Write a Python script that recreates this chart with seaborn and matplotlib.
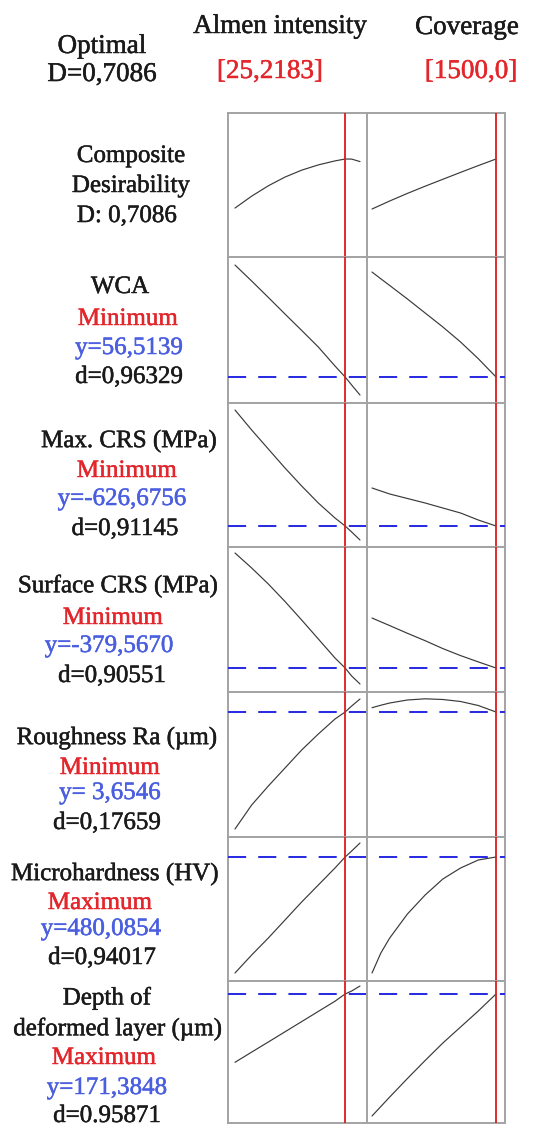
import matplotlib
matplotlib.use("Agg")
import matplotlib.pyplot as plt
import matplotlib.patheffects as pe
import seaborn as sns

sns.set_style("white")
plt.rcParams["font.family"] = ["Liberation Serif", "DejaVu Serif"]

# Factor settings (Almen intensity, coverage %) and optimum
almen = [12, 14, 16, 18, 20, 22, 24, 25.2183, 26, 27]
coverage = [100, 200, 300, 500, 700, 900, 1100, 1300, 1500]
almen_opt = 25.2183
coverage_opt = 1500.0

# Composite desirability
comp_almen = [0.354, 0.44, 0.515, 0.578, 0.628, 0.666, 0.695, 0.7086, 0.708, 0.69]
comp_cov = [0.347, 0.376, 0.405, 0.46, 0.512, 0.562, 0.612, 0.661, 0.7086]

# Water contact angle
wca_almen = [112.5, 104.5, 96.3, 88.0, 79.8, 71.5, 62.0, 56.5139, 52.5, 47.5]
wca_cov = [109.0, 105.6, 102.26, 95.51, 88.51, 81.51, 74.01, 65.66, 56.5139]

# Maximum compressive residual stress (MPa)
maxcrs_almen = [-278.7, -338.7, -395.7, -452.7, -506.7, -557.7, -602.7, -626.6756, -644.7, -668.7]
maxcrs_cov = [-512.68, -521.7, -530.68, -544.18, -557.68, -572.68, -587.68, -608.68, -626.6756]

# Surface compressive residual stress (MPa)
surfcrs_almen = [-149.57, -179.57, -211.57, -246.57, -283.57, -321.57, -359.57, -379.567, -395.57, -411.57]
surfcrs_cov = [-279.57, -287.2, -294.77, -310.17, -324.97, -340.77, -354.77, -367.37, -379.567]

# Surface roughness Ra (um)
ra_almen = [1.3146, 1.7946, 2.1746, 2.5346, 2.8946, 3.2146, 3.5146, 3.6546, 3.7746, 3.9146]
ra_cov = [3.7406, 3.79, 3.8346, 3.8946, 3.9186, 3.9046, 3.8646, 3.7846, 3.6546]

# Microhardness (HV)
hv_almen = [422.09, 431.09, 439.59, 448.59, 457.59, 466.09, 474.59, 480.0854, 483.09, 487.09]
hv_cov = [422.09, 432.09, 439.59, 451.59, 461.09, 469.09, 474.59, 478.59, 480.0854]

# Depth of deformed layer (um)
depth_almen = [137.23, 142.33, 147.38, 152.48, 157.58, 162.68, 167.78, 171.3848, 172.88, 175.38]
depth_cov = [110.38, 115.13, 119.88, 129.13, 138.13, 146.88, 154.88, 162.88, 171.3848]

# Optimal predicted responses (None: no target line)
optimum_y = [None, 56.5139, -626.6756, -379.5670, 3.6546, 480.0854, 171.3848]

series_almen = [comp_almen, wca_almen, maxcrs_almen, surfcrs_almen, ra_almen, hv_almen, depth_almen]
series_cov = [comp_cov, wca_cov, maxcrs_cov, surfcrs_cov, ra_cov, hv_cov, depth_cov]

RED = "#e3262c"
BLUE = "#4a5ee0"
BLACK = "#1a1a1a"

# Row label blocks: (text, colour, x centre px, y centre px)
row_labels = [
    [("Composite", BLACK, 131, 156), ("Desirability", BLACK, 131, 186), ("D: 0,7086", BLACK, 127, 216)],
    [("WCA", BLACK, 120, 287), ("Minimum", RED, 128, 319), ("y=56,5139", BLUE, 129, 348), ("d=0,96329", BLACK, 129, 377)],
    [("Max. CRS (MPa)", BLACK, 129, 441), ("Minimum", RED, 127, 471), ("y=-626,6756", BLUE, 122, 499), ("d=0,91145", BLACK, 125, 529)],
    [("Surface CRS (MPa)", BLACK, 118, 586), ("Minimum", RED, 113, 618), ("y=-379,5670", BLUE, 109, 646), ("d=0,90551", BLACK, 112, 676)],
    [("Roughness Ra (\u00b5m)", BLACK, 117, 738), ("Minimum", RED, 110, 768), ("y= 3,6546", BLUE, 110, 793), ("d=0,17659", BLACK, 107, 823)],
    [("Microhardness (HV)", BLACK, 115, 874), ("Maximum", RED, 100, 903), ("y=480,0854", BLUE, 101, 929), ("d=0,94017", BLACK, 102, 958)],
    [("Depth of", BLACK, 107, 998), ("deformed layer (\u00b5m)", BLACK, 118, 1029), ("Maximum", RED, 104, 1058),
     ("y=171,3848", BLUE, 107, 1088), ("d=0.95871", BLACK, 107, 1116)],
]

# Layout (pixels)
W, H = 539, 1126
col_edges = [228, 367, 505]
row_edges = [113, 257, 403, 547, 692, 837, 981, 1123]
xlim_almen = (11.16, 27.84)
xlim_cov = (43.5, 1601.6)
ylims = [(0, 1.0413), (43.51, 116.51), (-689.68, -257.68), (-427.57, -137.57),
         (1.1546, 4.0546), (418.09, 490.09), (106.88, 177.88)]

fig = plt.figure(figsize=(W / 100, H / 100), dpi=100)
fig.patch.set_facecolor("white")


def fx(px):
    return px / W


def fy(py):
    return 1 - py / H


GRID = "#a3a3a3"
dash_lw = 1.45
dash_pat = (9.0, 6.0)
period_px = (dash_pat[0] + dash_pat[1]) * dash_lw / 0.72
right_offset = ((col_edges[1] - col_edges[0]) % period_px) * 0.72 / dash_lw

for r in range(7):
    top, bot = row_edges[r], row_edges[r + 1]
    for c, (xs, ys, xlim, xopt) in enumerate([
        (almen, series_almen[r], xlim_almen, almen_opt),
        (coverage, series_cov[r], xlim_cov, coverage_opt),
    ]):
        left, right = col_edges[c], col_edges[c + 1]
        ax = fig.add_axes([fx(left), fy(bot), fx(right - left), (bot - top) / H])
        sns.lineplot(x=xs, y=ys, ax=ax, color="#3a3a3a", lw=0.85, zorder=2)
        ax.axvline(xopt, color="#dd1a1a", lw=1.3, zorder=3)
        if optimum_y[r] is not None:
            off = 0 if c == 0 else right_offset
            ax.axhline(optimum_y[r], color="#2a2ee0", lw=dash_lw,
                       linestyle=(off, dash_pat), zorder=4)
        ax.set_xlim(*xlim)
        ax.set_ylim(*ylims[r])
        ax.set_xticks([])
        ax.set_yticks([])
        ax.set_xlabel("")
        ax.set_ylabel("")
        for s in ax.spines.values():
            s.set_color(GRID)
            s.set_linewidth(1.4)
            s.set_visible(True)


def label(x, y, s, color, size, va="center"):
    t = fig.text(fx(x), fy(y), s, ha="center", va=va, fontsize=size, color=color)
    t.set_path_effects([pe.withStroke(linewidth=0.35, foreground=color)])
    return t


# Header
label(102, 53, "Optimal", BLACK, 19.5, va="baseline")
label(102, 81, "D=0,7086", BLACK, 19.5, va="baseline")
label(280, 33, "Almen intensity", BLACK, 19.5, va="baseline")
label(270, 78, "[25,2183]", RED, 19.5, va="baseline")
label(467, 34, "Coverage", BLACK, 19.5, va="baseline")
label(471, 78, "[1500,0]", RED, 19.5, va="baseline")

for block in row_labels:
    for txt, col, x, y in block:
        label(x, y, txt, col, 18)

fig.savefig("out.png", dpi=100, facecolor="white")
